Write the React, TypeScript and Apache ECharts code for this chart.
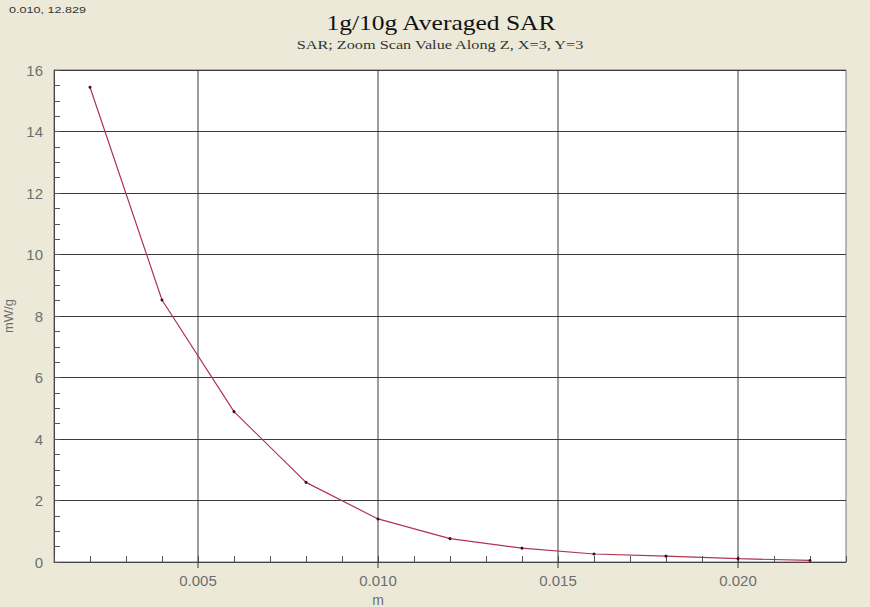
import React, { useEffect, useRef } from "react";
import * as echarts from "echarts";

const titleText = "1g/10g Averaged SAR";
const subtitleText = "SAR; Zoom Scan Value Along Z, X=3, Y=3";
const cursorText = "0.010, 12.829";
const xName = "m";
const yName = "mW/g";

const xValues = [0.002, 0.004, 0.006, 0.008, 0.01, 0.012, 0.014, 0.016, 0.018, 0.02, 0.022];
const sarValues = [15.44, 8.52, 4.89, 2.59, 1.4, 0.76, 0.45, 0.26, 0.19, 0.11, 0.05];
const xMajorTicks = [0.005, 0.01, 0.015, 0.02];

export default function App() {
  const ref = useRef<HTMLDivElement>(null);
  useEffect(() => {
    document.body.style.margin = "0";
    const chart = echarts.init(ref.current!, null, { renderer: "svg" });
    const labelColor = "#6e6e6e";
    const sans = "'Liberation Sans', Arial, sans-serif";
    const serif = "'Liberation Serif', 'Times New Roman', serif";
    chart.setOption({
      animation: false,
      backgroundColor: "#ECE9D8",
      grid: {
        left: 54,
        right: 24,
        top: 70,
        bottom: 45,
        containLabel: false,
        outerBoundsMode: "none",
        show: true,
        backgroundColor: "#ffffff",
        borderColor: "#777",
        borderWidth: 1,
      },
      graphic: [
        {
          type: "text",
          x: 9,
          y: 5,
          scaleX: 1.4,
          style: { text: cursorText, font: "9px " + sans, fill: "#333" },
        },
        {
          type: "text",
          x: 441,
          y: 23,
          scaleX: 1.16,
          style: {
            text: titleText,
            font: "22px " + serif,
            fill: "#111",
            align: "center",
            verticalAlign: "middle",
          },
        },
        {
          type: "text",
          x: 440,
          y: 45,
          scaleX: 1.25,
          style: {
            text: subtitleText,
            font: "13px " + serif,
            fill: "#333",
            align: "center",
            verticalAlign: "middle",
          },
        },
        {
          type: "text",
          x: 378,
          y: 600,
          style: {
            text: xName,
            font: "14px " + sans,
            fill: labelColor,
            align: "center",
            verticalAlign: "middle",
          },
        },
      ],
      xAxis: {
        type: "value",
        min: 0.001,
        max: 0.023,
        interval: 0.001,
        axisLine: { show: true, lineStyle: { color: "#444", width: 1 } },
        axisTick: { show: true, inside: true, length: 6, lineStyle: { color: "#555" } },
        splitLine: { show: false },
        axisLabel: {
          color: labelColor,
          fontSize: 15,
          margin: 11,
          fontFamily: sans,
          formatter: (v: number) => {
            const k = Math.round(v * 1000);
            return k % 5 === 0 ? (k / 1000).toFixed(3) : "";
          },
        },
      },
      yAxis: {
        type: "value",
        min: 0,
        max: 16,
        interval: 2,
        name: yName,
        nameLocation: "middle",
        nameGap: 38,
        nameTextStyle: { color: labelColor, fontSize: 13, fontFamily: sans },
        axisLine: { show: true, lineStyle: { color: "#444", width: 1 } },
        axisTick: { show: true, inside: true, length: 6, lineStyle: { color: "#555" } },
        minorTick: { show: true, splitNumber: 4, length: 6, lineStyle: { color: "#555" } },
        splitLine: { show: true, lineStyle: { color: "#3a3a3a", width: 1 } },
        axisLabel: {
          color: labelColor,
          fontSize: 15,
          margin: 11,
          fontFamily: sans,
        },
      },
      series: [
        {
          type: "custom",
          silent: true,
          z: 1,
          data: xMajorTicks.map((v) => [v]),
          renderItem: (params: any, api: any) => {
            const x = api.value(0);
            const p0 = api.coord([x, 0]);
            const p1 = api.coord([x, 16]);
            return {
              type: "line",
              shape: { x1: p0[0], y1: p0[1] + 6, x2: p1[0], y2: p1[1] },
              style: { stroke: "#3a3a3a", lineWidth: 1 },
            };
          },
        },
        {
          type: "line",
          data: xValues.map((x, i) => [x, sarValues[i]]),
          symbol: "circle",
          symbolSize: 3,
          showSymbol: true,
          itemStyle: { color: "#3a1020" },
          lineStyle: { color: "#b0344f", width: 1.2 },
          z: 3,
        },
      ],
    });
    return () => chart.dispose();
  }, []);
  return <div ref={ref} style={{ width: 870, height: 607 }} />;
}
